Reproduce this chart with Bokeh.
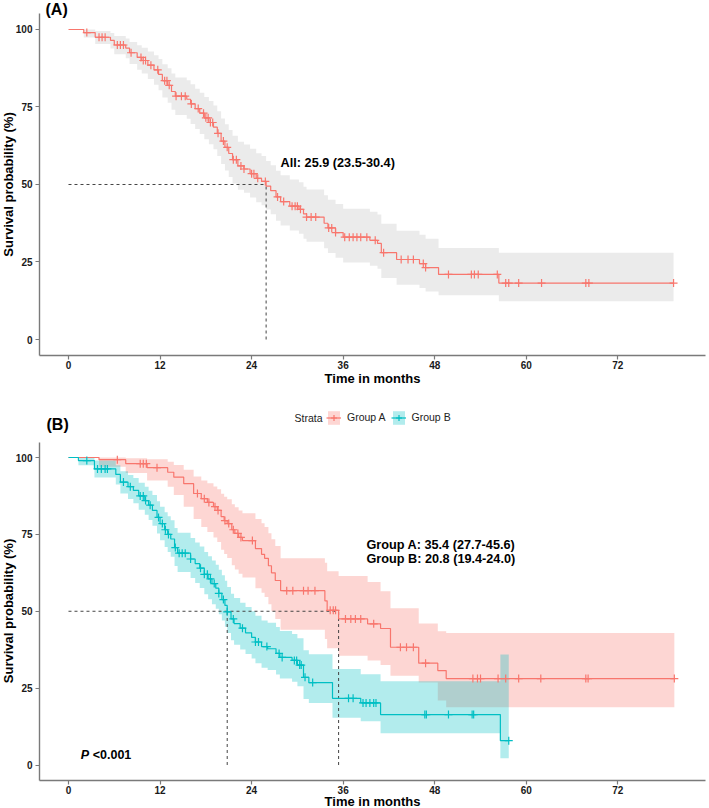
import numpy as np
from bokeh.plotting import figure
from bokeh.models import Range1d, FixedTicker, Label, Legend, LegendItem
from bokeh.layouts import column
from bokeh.embed import file_html
from bokeh.resources import INLINE

FONT = "Liberation Sans"
RED = "#F8766D"
CYAN = "#00BFC4"

x_ticks = [0, 12, 24, 36, 48, 60, 72]
y_ticks = [0, 25, 50, 75, 100]

# ---------------- Panel A: all patients ----------------
all_time = [0, 2.0, 3.5, 5.5, 6.0, 7.5, 8.0, 9.0, 9.6, 10.4,
            11.2, 11.8, 12.3, 13.0, 13.5, 14.0, 15.5, 16.0, 16.6, 17.2,
            17.8, 18.4, 19.0, 19.5, 20.0, 20.5, 21.0, 21.5, 22.2, 23.0,
            23.8, 24.6, 25.3, 25.9, 26.5, 27.2, 27.8, 29.0, 30.2, 30.8,
            31.2, 33.5, 34.0, 35.0, 36.0, 39.5, 40.5, 41.0, 43.0, 46.0,
            46.8, 48.5, 56.4]
all_surv = [100, 99.0, 97.5, 96.5, 95.0, 94.0, 92.5, 91.0, 90.0, 88.5,
            87.0, 85.5, 83.5, 82.0, 80.0, 78.5, 77.5, 76.0, 74.5, 73.0,
            71.5, 70.0, 68.5, 66.5, 64.0, 62.0, 60.0, 58.0, 56.0, 55.0,
            53.5, 52.0, 51.0, 49.5, 48.0, 46.0, 44.5, 43.0, 42.0, 40.5,
            39.5, 37.5, 36.0, 34.5, 33.0, 32.0, 31.0, 28.0, 25.8, 24.5,
            23.2, 21.0, 18.2]
all_lower = [100, 97.4, 95.3, 93.9, 92.0, 90.7, 88.9, 87.0, 85.8, 84.0,
             82.2, 80.4, 78.1, 76.4, 74.1, 72.4, 71.2, 69.5, 67.9, 66.3,
             64.6, 63.0, 61.4, 59.2, 56.6, 54.5, 52.4, 50.3, 48.3, 47.3,
             45.8, 44.3, 43.3, 41.9, 40.4, 38.3, 36.8, 35.2, 34.1, 32.5,
             31.5, 29.4, 27.9, 26.4, 24.8, 23.8, 22.8, 19.8, 17.7, 16.6,
             15.5, 14.3, 12.3]
all_upper = [100, 100, 99.5, 98.9, 97.9, 97.1, 96.0, 94.9, 94.1, 92.9,
             91.7, 90.5, 88.8, 87.5, 85.8, 84.5, 83.6, 82.3, 80.9, 79.6,
             78.2, 76.9, 75.5, 73.6, 71.3, 69.4, 67.6, 65.7, 63.8, 62.9,
             61.5, 60.1, 59.2, 57.6, 56.2, 54.4, 53.0, 51.6, 50.7, 49.3,
             48.4, 46.5, 45.1, 43.7, 42.2, 41.2, 40.3, 37.3, 35.1, 33.8,
             32.5, 29.5, 28.0]
all_end = 79.3
all_censor = [2.4, 4.0, 4.4, 4.8, 6.4, 6.8, 7.2, 8.2, 9.5, 9.8, 10.1, 10.8,
              11.7, 12.6, 12.9, 13.2, 14.1, 14.8, 15.3, 16.1, 17.0, 17.7,
              18.0, 18.3, 18.6, 18.9, 19.6, 20.3, 20.8, 21.6, 22.0, 22.6,
              23.0, 24.0, 24.3, 24.8, 25.8, 27.4, 28.2, 29.3, 29.7, 30.0,
              30.4, 31.2, 31.8, 32.4, 34.1, 34.5, 35.0, 36.2, 36.8, 37.3,
              37.8, 38.3, 39.1, 40.2, 41.3, 43.6, 44.5, 45.2, 46.5, 46.8,
              49.8, 52.8, 53.2, 53.7, 56.2, 57.3, 57.7, 59.0, 62.0, 67.8,
              68.2, 79.3]
median_all = 25.9
label_all = "All: 25.9 (23.5-30.4)"

# ---------------- Panel B: Group A ----------------
a_time = [0, 4.0, 7.5, 10.3, 13.0, 13.8, 15.1, 16.4, 17.4, 18.2,
          19.0, 19.5, 20.0, 20.4, 20.8, 21.4, 21.8, 22.3, 22.8, 24.5,
          25.3, 25.7, 26.2, 26.6, 27.1, 27.8, 33.6, 33.9, 35.4, 39.2,
          40.9, 42.2, 45.9, 48.4, 49.5]
a_surv = [100, 99.3, 98.0, 96.7, 95.2, 93.6, 91.5, 88.3, 86.6, 85.4,
          84.0, 82.8, 80.8, 79.5, 78.5, 76.5, 75.3, 74.0, 73.0, 70.4,
          68.5, 67.2, 64.8, 62.5, 60.0, 56.7, 53.4, 50.3, 47.5, 45.9,
          44.4, 38.3, 33.1, 30.7, 28.1]
a_lower = [100, 97.0, 95.0, 92.5, 90.5, 87.8, 84.0, 80.0, 77.4, 75.8,
           74.0, 72.5, 70.0, 68.6, 67.3, 65.0, 63.6, 62.2, 61.0, 57.5,
           56.0, 54.6, 52.3, 50.0, 47.5, 44.0, 41.0, 38.0, 35.5, 34.0,
           32.5, 29.0, 26.8, 21.0, 18.8]
a_upper = [100, 100, 99.8, 99.4, 98.6, 97.6, 96.0, 93.8, 92.5, 91.6,
           90.6, 89.7, 88.2, 87.2, 86.4, 84.8, 83.8, 82.8, 81.9, 80.0,
           78.6, 77.4, 75.4, 73.4, 71.2, 67.2, 65.8, 63.0, 61.5, 59.5,
           56.5, 51.0, 46.0, 43.5, 42.9]
a_end = 79.4
a_censor = [6.4, 9.4, 9.8, 10.2, 11.6, 16.9, 17.8, 18.4, 19.2, 19.6, 20.5,
            21.0, 21.6, 22.2, 22.6, 24.1, 28.6, 29.4, 30.8, 31.4, 32.3,
            34.3, 34.7, 35.0, 36.3, 37.0, 37.6, 38.3, 40.0, 43.5, 44.3,
            45.2, 46.8, 53.0, 53.6, 54.0, 56.3, 57.3, 59.0, 61.9, 67.8,
            68.1, 79.4]
median_a = 35.4

# ---------------- Panel B: Group B ----------------
b_time = [0, 1.3, 3.4, 6.2, 6.8, 7.8, 8.5, 9.2, 10.0, 10.5,
          11.0, 11.6, 12.0, 12.6, 13.0, 13.4, 13.9, 14.3, 16.0, 16.6,
          17.2, 17.8, 18.3, 18.8, 19.3, 19.7, 20.1, 20.5, 20.8, 21.3,
          21.7, 22.5, 23.2, 24.0, 24.5, 25.3, 26.1, 27.2, 27.7, 29.3,
          30.0, 30.8, 31.5, 34.6, 38.3, 40.9, 56.6]
b_surv = [100, 99.0, 96.3, 94.5, 92.0, 90.5, 89.3, 87.5, 86.0, 84.5,
          82.8, 80.5, 78.5, 76.5, 75.0, 73.5, 70.7, 68.9, 67.0, 65.5,
          64.0, 62.0, 60.5, 59.0, 57.5, 55.8, 53.8, 51.9, 49.8, 47.5,
          46.0, 44.5, 43.0, 41.5, 40.0, 38.5, 37.8, 36.3, 35.0, 34.0,
          32.5, 28.5, 26.8, 21.7, 20.2, 16.4, 7.9]
b_lower = [100, 97.5, 93.5, 91.2, 88.3, 86.5, 85.1, 83.0, 81.4, 79.7,
           77.8, 75.3, 73.1, 70.9, 69.3, 67.7, 64.7, 62.8, 60.8, 59.2,
           57.6, 55.5, 53.9, 52.3, 50.8, 49.0, 47.0, 45.0, 42.9, 40.6,
           39.1, 37.6, 36.1, 34.6, 33.1, 31.6, 30.9, 29.4, 28.1, 27.1,
           25.6, 21.5, 20.2, 15.4, 14.2, 10.3, 2.2]
b_upper = [100, 100, 99.0, 97.5, 95.5, 94.3, 93.3, 91.8, 90.5, 89.2,
           87.8, 85.8, 84.0, 82.2, 80.9, 79.6, 77.1, 75.5, 73.8, 72.4,
           71.1, 69.3, 67.9, 66.5, 65.1, 63.5, 61.7, 59.9, 57.9, 55.7,
           54.3, 52.8, 51.4, 50.0, 48.5, 47.0, 46.3, 44.9, 43.6, 42.6,
           41.2, 37.3, 36.0, 31.2, 29.5, 27.2, 35.9]
b_end = 57.7
b_censor = [2.4, 3.8, 4.3, 4.8, 5.1, 7.2, 8.1, 9.4, 9.8, 10.1, 10.7, 11.8,
            12.3, 12.7, 13.1, 14.0, 14.5, 14.9, 15.3, 16.0, 17.3, 17.8,
            18.2, 18.6, 19.1, 19.7, 20.3, 20.8, 21.6, 22.8, 24.5, 24.9,
            26.0, 27.6, 28.0, 29.6, 29.9, 30.3, 30.5, 31.0, 32.0, 36.7,
            37.3, 38.6, 39.0, 39.5, 40.0, 40.3, 46.7, 46.9, 49.8, 52.9,
            53.1, 57.7]
median_b = 20.8
label_a = "Group A: 35.4 (27.7-45.6)"
label_b = "Group B: 20.8 (19.4-24.0)"
p_text = "<0.001"
strata_names = ["Group A", "Group B"]

X_RANGE = (-8.912, 84.01)
X_AXIS_AT = -5.0      # survival value where the time axis sits
Y_AXIS_AT = -3.80     # time value where the survival axis sits
X_BOUNDS = (-3.80, 83.49)
Y_BOUNDS = (-5, 105)


def ext(arr, end=None):
    return list(arr) + [end if end is not None else arr[-1]]


def censor_y(times, surv, cens):
    idx = np.searchsorted(np.array(times), np.array(cens), side="right") - 1
    return [surv[i] for i in idx]


def make_fig(h, y_range):
    p = figure(width=709, height=h, x_range=Range1d(*X_RANGE),
               y_range=Range1d(*y_range), output_backend="svg",
               toolbar_location=None, title=None,
               min_border_left=0, min_border_right=0,
               min_border_top=0, min_border_bottom=0)
    p.outline_line_color = None
    p.grid.visible = False
    for ax in (p.xaxis[0], p.yaxis[0]):
        ax.axis_line_color = "#7a7a7a"
        ax.axis_line_width = 1.4
        ax.major_tick_line_color = "#7a7a7a"
        ax.major_tick_line_width = 1.2
        ax.major_tick_out = 4
        ax.major_tick_in = 0
        ax.minor_tick_line_color = None
        ax.major_label_text_font = FONT
        ax.major_label_text_font_style = "bold"
        ax.major_label_text_font_size = "10px"
        ax.major_label_text_color = "#1a1a1a"
    p.xaxis[0].ticker = FixedTicker(ticks=x_ticks)
    p.yaxis[0].ticker = FixedTicker(ticks=y_ticks)
    p.xaxis[0].fixed_location = X_AXIS_AT
    p.yaxis[0].fixed_location = Y_AXIS_AT
    p.xaxis[0].bounds = X_BOUNDS
    p.yaxis[0].bounds = Y_BOUNDS
    p.xaxis[0].major_label_standoff = 2
    p.yaxis[0].major_label_standoff = 3
    return p


def add_band(p, times, lo, hi, end, band_color, band_alpha):
    return p.varea_step(x=ext(times, end), y1=ext(lo), y2=ext(hi),
                        step_mode="after", fill_color=band_color,
                        fill_alpha=band_alpha)


def add_line(p, times, surv, end, cens, color):
    line = p.step(x=ext(times, end), y=ext(surv), mode="after",
                  line_color=color, line_width=1.2)
    cr = p.scatter(x=cens, y=censor_y(times, surv, cens), marker="cross",
                   size=8, line_color=color, line_width=1.2)
    return line, cr


def text_label(p, x, y, text, size, style="bold", align="left",
               baseline="middle", units="screen", color="#000000",
               x_offset=0, angle=0.0):
    lab = Label(x=x, y=y, x_units=units, y_units=units, text=text,
                text_font=FONT, text_font_size=size, text_font_style=style,
                text_align=align, text_baseline=baseline, angle=angle,
                text_color=color, x_offset=x_offset)
    p.add_layout(lab)
    return lab


# ---------------- Figure A (canvas 709 x 402) ----------------
pA = make_fig(402, (-20.32, 109.35))
add_band(pA, all_time, all_lower, all_upper, all_end, "#ebebeb", 1.0)
pA.segment(x0=[0, median_all], y0=[50, 0], x1=[median_all, median_all],
           y1=[50, 50], line_color="#444444", line_width=1.0, line_dash="3 3")
add_line(pA, all_time, all_surv, all_end, all_censor, RED)
text_label(pA, 27.8, 57.0, label_all, "12.7px", units="data")
text_label(pA, 45, 393.5, "(A)", "16px")
text_label(pA, 372, 24, "Time in months", "13px", align="center")
text_label(pA, 8, 218, "Survival probability (%)", "13px", align="center",
           angle=np.pi / 2)

# ---------------- Figure B (canvas 709 x 405) ----------------
pB = make_fig(405, (-13.82, 117.89))
bandA = add_band(pB, a_time, a_lower, a_upper, a_end, RED, 0.3)
bandB = add_band(pB, b_time, b_lower, b_upper, b_end, CYAN, 0.3)
mmax = max(median_a, median_b)
pB.segment(x0=[0, median_b, median_a], y0=[50, 0, 0],
           x1=[mmax, median_b, median_a], y1=[50, 50, 50],
           line_color="#444444", line_width=1.0, line_dash="3 3")
lineA, censA = add_line(pB, a_time, a_surv, a_end, a_censor, RED)
lineB, censB = add_line(pB, b_time, b_surv, b_end, b_censor, CYAN)

text_label(pB, 39.05, 71.4, label_a, "12.7px", units="data")
text_label(pB, 39.05, 67.1, label_b, "12.7px", units="data")
text_label(pB, 1.6, 3.4, "P", "12.5px", style="bold italic", units="data")
text_label(pB, 1.6, 3.4, p_text, "12.5px", units="data", x_offset=12)
text_label(pB, 46, 383.5, "(B)", "16px")
text_label(pB, 372, 6.5, "Time in months", "13px", align="center")
text_label(pB, 8, 196.5, "Survival probability (%)", "13px", align="center",
           angle=np.pi / 2)
text_label(pB, 294, 390, "Strata", "10.5px", style="normal",
           color="#222222")

legend = Legend(items=[LegendItem(label=strata_names[0], renderers=[bandA, lineA, censA]),
                       LegendItem(label=strata_names[1], renderers=[bandB, lineB, censB])],
                location=(326, 381.5), orientation="horizontal",
                glyph_width=15, glyph_height=17, label_height=17,
                label_text_font=FONT, label_text_font_size="10.5px",
                label_text_color="#222222", label_standoff=6, spacing=5,
                padding=0, margin=0, border_line_color=None,
                background_fill_alpha=0)
pB.add_layout(legend)

layout = column(pA, pB)
open("out.html", "w").write(file_html(layout, INLINE))
